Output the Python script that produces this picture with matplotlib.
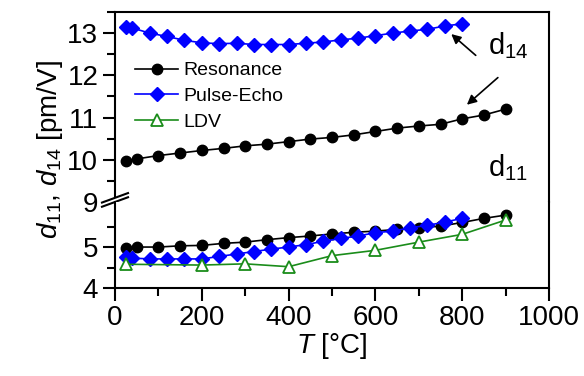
import numpy as np
import matplotlib
matplotlib.use("Agg")
import matplotlib.pyplot as plt
from matplotlib.lines import Line2D
from matplotlib.patches import Polygon

plt.rcParams['font.family'] = ['Liberation Sans', 'DejaVu Sans']
plt.rcParams['mathtext.fontset'] = 'custom'
plt.rcParams['mathtext.rm'] = 'Liberation Sans'
plt.rcParams['mathtext.it'] = 'Liberation Sans:italic'

# d14 (gorna czesc osi)
T_res = [25, 50, 100, 150, 200, 250, 300, 350, 400, 450, 500, 550, 600, 650, 700, 750, 800, 850, 900]
d14_res = [9.98, 10.02, 10.1, 10.16, 10.22, 10.27, 10.33, 10.37, 10.43, 10.49, 10.53, 10.59, 10.67,
           10.75, 10.8, 10.84, 10.97, 11.06, 11.2]
T_pe = [25, 40, 80, 120, 160, 200, 240, 280, 320, 360, 400, 440, 480, 520, 560, 600, 640, 680, 720, 760, 800]
d14_pe = [13.14, 13.12, 13.0, 12.92, 12.83, 12.77, 12.75, 12.76, 12.73, 12.73, 12.73, 12.76, 12.79,
          12.84, 12.88, 12.94, 13.0, 13.05, 13.09, 13.17, 13.22]

# d11 (dolna czesc osi)
d11_res = [4.98, 5.0, 5.0, 5.03, 5.04, 5.09, 5.12, 5.18, 5.23, 5.27, 5.32, 5.36, 5.39,
           5.43, 5.47, 5.51, 5.6, 5.7, 5.78]
T_pe11 = [25, 40, 80, 120, 160, 200, 240, 280, 320, 360, 400, 440, 480, 520, 560, 600, 640, 680, 720, 760, 800]
d11_pe = [4.75, 4.73, 4.71, 4.71, 4.71, 4.71, 4.77, 4.83, 4.89, 4.95, 5.0, 5.06, 5.14,
          5.21, 5.27, 5.35, 5.39, 5.47, 5.53, 5.61, 5.7]
T_ldv = [25, 200, 300, 400, 500, 600, 700, 800, 900]
d11_ldv = [4.58, 4.56, 4.59, 4.52, 4.79, 4.92, 5.12, 5.31, 5.66]

blue = '#0000ff'
green = '#1a8c1a'

fig = plt.figure(figsize=(5.84, 3.76), dpi=100)
left, right = 115 / 584, 549 / 584
top, brk, bottom = 1 - 12 / 376, 1 - 202 / 376, 1 - 288 / 376
ax_top = fig.add_axes([left, brk, right - left, top - brk])
ax_bot = fig.add_axes([left, bottom, right - left, brk - bottom], sharex=ax_top)

style_res = dict(color='k', marker='o', ms=7.5, lw=1.2, label='Resonance')
style_pe = dict(color=blue, marker='D', ms=7.5, lw=1.2, label='Pulse-Echo')
style_ldv = dict(color=green, marker='^', ms=8, mfc='white', mec=green, mew=1.3, lw=1.2, label='LDV')

ax_top.plot(T_res, d14_res, **style_res)
ax_top.plot(T_pe, d14_pe, **style_pe)
ax_top.plot([], [], **style_ldv)

ax_bot.plot(T_res, d11_res, **style_res)
ax_bot.plot(T_pe11, d11_pe, **style_pe)
ax_bot.plot(T_ldv, d11_ldv, **style_ldv)

ax_top.set_ylim(9, 13.5)
ax_bot.set_ylim(4, 6.1)
ax_bot.set_xlim(0, 1000)
ax_top.set_yticks([9, 10, 11, 12, 13])
ax_top.set_yticks(np.arange(9.5, 13.6, 1), minor=True)
ax_bot.set_yticks([4, 5])
ax_bot.set_yticks([4.5, 5.5], minor=True)
ax_bot.set_xticks(range(0, 1001, 200))
ax_bot.set_xticks(range(100, 1000, 200), minor=True)

for ax in (ax_top, ax_bot):
    for s in ax.spines.values():
        s.set_linewidth(1.5)
    ax.tick_params(which='major', direction='out', length=9, width=1.5, labelsize=20, pad=3)
    ax.tick_params(which='minor', direction='out', length=5.5, width=1.5)
ax_top.spines['bottom'].set_visible(False)
ax_bot.spines['top'].set_visible(False)
ax_top.tick_params(axis='x', which='both', bottom=False, labelbottom=False)

ax_bot.set_xlabel(r'$T$ [°C]', fontsize=20, labelpad=0)
fig.text(0.085, (top + bottom) / 2, r'$d_{11}$, $d_{14}$ [pm/V]', rotation=90,
         fontsize=20, ha='center', va='center')

ax_top.legend(loc='upper left', bbox_to_anchor=(0.015, 0.81), frameon=False, fontsize=14,
              handlelength=2.2, handletextpad=0.3, labelspacing=0.42, borderaxespad=0.3)

# opisy
ax_top.text(860, 12.5, r'd$_{14}$', fontsize=21)
ax_top.text(860, 9.6, r'd$_{11}$', fontsize=21)
ax_top.annotate('', xy=(770, 13.02), xytext=(836, 12.43),
                arrowprops=dict(arrowstyle='-|>', color='k', lw=1.2, mutation_scale=14))
ax_top.annotate('', xy=(806, 11.26), xytext=(887, 11.99),
                arrowprops=dict(arrowstyle='-|>', color='k', lw=1.2, mutation_scale=14))

# przerwanie osi
tr = ax_top.transAxes
w, h = 0.03, 0.025
gap = 0.022
x0 = 0.0
poly = Polygon([[x0 - w, -h], [x0 + w, h], [x0 + w, h + gap], [x0 - w, -h + gap]], closed=True,
               transform=tr, facecolor='white', edgecolor='none', clip_on=False, zorder=5)
ax_top.add_patch(poly)
for dy in (0, gap):
    ax_top.add_line(Line2D([x0 - w, x0 + w], [-h + dy, h + dy], transform=tr, color='k', lw=1.5,
                           clip_on=False, zorder=6))

fig.savefig('out.png', dpi=100)
